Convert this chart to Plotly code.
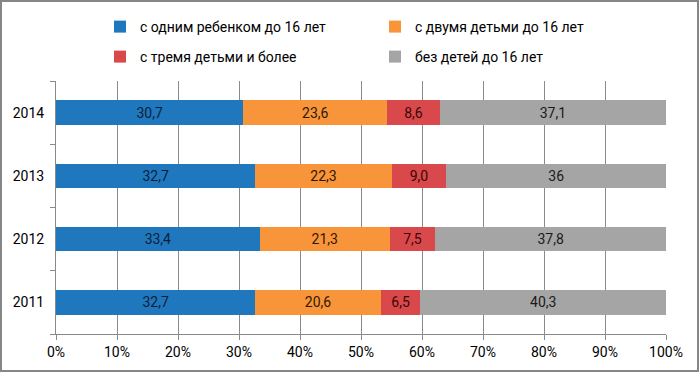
import plotly.graph_objects as go

years = ["2011", "2012", "2013", "2014"]
series_names = [
    "с одним ребенком до 16 лет",
    "с двумя детьми до 16 лет",
    "с тремя детьми и более",
    "без детей до 16 лет",
]
one_child = [32.7, 33.4, 32.7, 30.7]
two_children = [20.6, 21.3, 22.3, 23.6]
three_plus = [6.5, 7.5, 9.0, 8.6]
no_children = [40.3, 37.8, 36, 37.1]

one_child_labels = ["32,7", "33,4", "32,7", "30,7"]
two_children_labels = ["20,6", "21,3", "22,3", "23,6"]
three_plus_labels = ["6,5", "7,5", "9,0", "8,6"]
no_children_labels = ["40,3", "37,8", "36", "37,1"]

x_ticks = [0, 10, 20, 30, 40, 50, 60, 70, 80, 90, 100]
x_tick_labels = ["0%", "10%", "20%", "30%", "40%", "50%", "60%", "70%", "80%", "90%", "100%"]

colors = ["#1F77BE", "#F8943A", "#D9484B", "#A5A5A5"]
text_colors = ["#0E1E3A", "#2E1A05", "#3A0606", "#1A1A1A"]
legends = ["legend", "legend", "legend2", "legend2"]

FONT = "Roboto"

fig = go.Figure()
for name, vals, labels, col, tcol, lg in zip(
    series_names,
    [one_child, two_children, three_plus, no_children],
    [one_child_labels, two_children_labels, three_plus_labels, no_children_labels],
    colors, text_colors, legends,
):
    fig.add_trace(go.Bar(
        y=years, x=vals, name=name, orientation="h",
        marker=dict(color=col, line=dict(width=0)),
        text=labels, textposition="inside", insidetextanchor="middle",
        textangle=0, constraintext="none",
        textfont=dict(family=FONT, size=14, color=tcol),
        width=0.39, legend=lg,
    ))

W, H = 700, 373
ml, mr, mt, mb = 56, 34, 81, 39
pw, ph = W - ml - mr, H - mt - mb

def px_x(px):
    return (px - ml) / pw

def px_y(py):
    return (H - mb - py) / ph

leg_common = dict(orientation="h", xanchor="left", yanchor="middle",
                  entrywidth=230, entrywidthmode="pixels",
                  font=dict(family=FONT, size=14),
                  bgcolor="rgba(0,0,0,0)", traceorder="normal")

fig.update_layout(
    width=W, height=H,
    barmode="stack", barnorm="percent",
    margin=dict(l=ml, r=mr, t=mt, b=mb, autoexpand=False),
    paper_bgcolor="white", plot_bgcolor="white",
    font=dict(family=FONT, size=14, color="#000000"),
    legend=dict(x=px_x(100), y=px_y(27), **leg_common),
    legend2=dict(x=px_x(100), y=px_y(57), **leg_common),
    showlegend=True,
    xaxis=dict(range=[0, 100], tickvals=x_ticks, ticktext=x_tick_labels,
               showgrid=True, gridcolor="#8A8A8A", gridwidth=1,
               showline=True, linecolor="#8A8A8A", linewidth=1,
               ticks="outside", ticklen=5, tickcolor="#8A8A8A",
               tickfont=dict(family=FONT, size=14), zeroline=False,
               fixedrange=True, automargin=False),
    yaxis=dict(categoryorder="array", categoryarray=years,
               showgrid=False, showline=True, linecolor="#8A8A8A", linewidth=1,
               ticks="outside", ticklen=5, tickcolor="#8A8A8A", tickson="boundaries",
               tickfont=dict(family=FONT, size=14), ticklabelstandoff=8,
               fixedrange=True, automargin=False),
    shapes=[dict(type="rect", xref="paper", yref="paper",
                 x0=px_x(1), x1=px_x(698), y0=px_y(371), y1=px_y(1),
                 line=dict(color="#868686", width=2), fillcolor="rgba(0,0,0,0)", layer="below")],
)

fig.write_html("out.html", config={"displayModeBar": False},
               post_script="document.body.style.margin='0px';")
